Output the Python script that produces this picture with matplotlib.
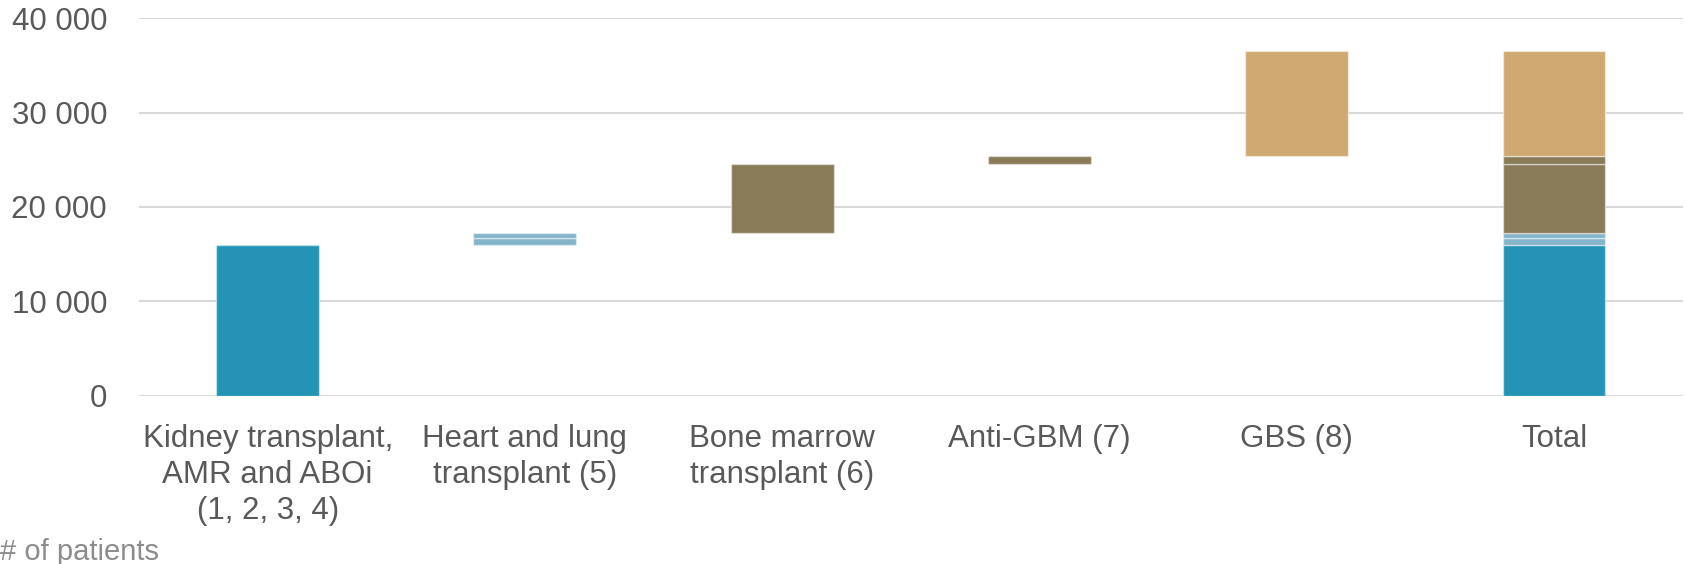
import matplotlib.pyplot as plt
import numpy as np

# categories on x axis
categories = ["Kidney transplant,\nAMR and ABOi\n(1, 2, 3, 4)",
              "Heart and lung\ntransplant (5)",
              "Bone marrow\ntransplant (6)",
              "Anti-GBM (7)",
              "GBS (8)",
              "Total"]

# segments: (category index, value, colour)
seg_cat = [0, 1, 1, 2, 3, 4]
seg_val = [16000, 700, 550, 7300, 870, 11100]
seg_col = ["#2394b5", "#85b5ca", "#85b5ca", "#8a7b58", "#8a7b58", "#cfa971"]

yticks = [0, 10000, 20000, 30000, 40000]
ytick_labels = ["0", "10 000", "20 000", "30 000", "40 000"]

plt.rcParams['font.family'] = ['Liberation Sans', 'DejaVu Sans']

fig = plt.figure(figsize=(16.87, 5.64), dpi=100)
ax = fig.add_axes([0.0824, 0.298, 0.915, 0.67])

x = np.arange(len(categories))
w = 0.40
total_x = len(categories) - 1
base = 0
for c, v, col in zip(seg_cat, seg_val, seg_col):
    # waterfall bar
    ax.bar(x[c], v, bottom=base, width=w, color=col,
           edgecolor=(1, 1, 1, 0.45), linewidth=1.0, zorder=3)
    # same segment in the total column
    ax.bar(x[total_x], v, bottom=base, width=w, color=col,
           edgecolor=(1, 1, 1, 0.45), linewidth=1.0, zorder=3)
    base += v

ax.set_xlim(-0.5, len(categories) - 0.5)
ax.set_ylim(0, 40000)
ax.set_yticks(yticks)
ax.set_yticklabels(ytick_labels)
ax.yaxis.grid(True, color="#d9d9d9", linewidth=1.5, zorder=0)
ax.set_axisbelow(True)
for s in ax.spines.values():
    s.set_visible(False)
ax.tick_params(axis='y', length=0, pad=23, labelsize=22.5, labelcolor="#595959")
ax.set_xticks(x)
ax.set_xticklabels(categories, linespacing=1.27)
ax.tick_params(axis='x', length=0, pad=20, labelsize=22.5, labelcolor="#595959")

fig.text(0.0, 0.022, "# of patients", fontsize=21, color="#8c8c8c",
         ha="left", va="center")

fig.savefig("out.png", dpi=100)
